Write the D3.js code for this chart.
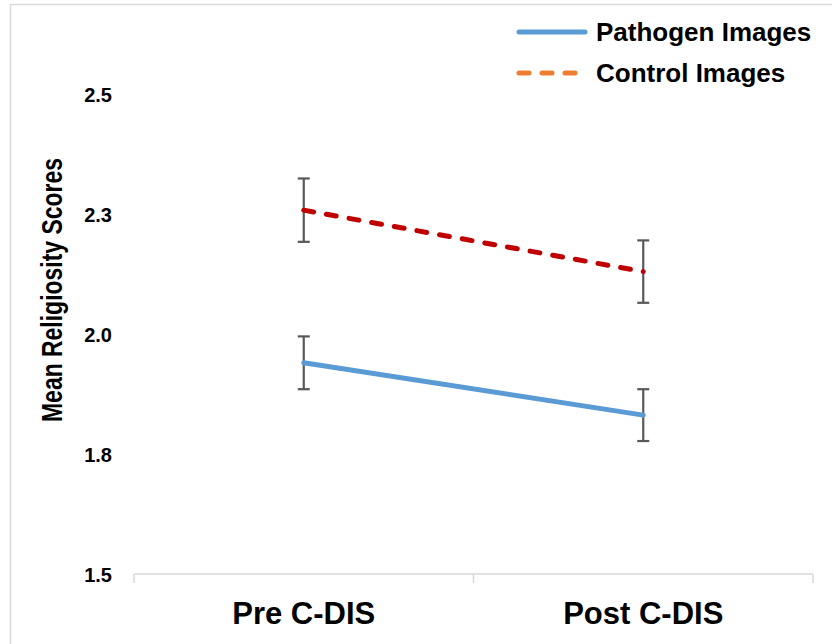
<!DOCTYPE html>
<html><head><meta charset="utf-8">
<script src="https://cdn.jsdelivr.net/npm/d3@7"></script>
<style>body{margin:0;background:#fff}svg{display:block}text{font-family:"Liberation Sans",Arial,sans-serif;font-weight:bold;fill:#000}</style>
</head><body>
<script>
const categories = ["Pre C-DIS", "Post C-DIS"];
const seriesNames = ["Pathogen Images", "Control Images"];
const pathogenValues = [1.940, 1.831];
const pathogenErrors = [0.055, 0.054];
const controlValues = [2.258, 2.130];
const controlErrors = [0.066, 0.065];
const yTickValues = [1.5, 1.75, 2.0, 2.25, 2.5];
const yTickLabels = ["1.5", "1.8", "2.0", "2.3", "2.5"];
const yTitle = "Mean Religiosity Scores";

const W = 832, H = 644;
const svg = d3.select("body").append("svg").attr("width", W).attr("height", H);
svg.append("rect").attr("width", W).attr("height", H).attr("fill", "#fff");

// outer frame (partially visible)
svg.append("path").attr("d", `M10.5,${H} V4.5 H${W}`).attr("fill", "none")
  .attr("stroke", "#d9d9d9").attr("stroke-width", 1.5);

const x = d3.scaleBand().domain(categories).range([134, 813]);
const y = d3.scaleLinear().domain([1.5, 2.5]).range([574, 94]);

// x axis
const xAxis = d3.axisBottom(x).tickSize(0).tickFormat("");
const gx = svg.append("g").attr("transform", "translate(0,574)").call(xAxis);
gx.select(".domain").remove();
gx.append("line").attr("x1", 134).attr("x2", 813).attr("y1", 0).attr("y2", 0)
  .attr("stroke", "#d9d9d9").attr("stroke-width", 1.5);
const bounds = [134, 134 + x.bandwidth(), 813];
gx.selectAll("line.tk").data(bounds).join("line").attr("class", "tk")
  .attr("x1", d => d).attr("x2", d => d).attr("y1", 0).attr("y2", 9)
  .attr("stroke", "#d9d9d9").attr("stroke-width", 1.5);
svg.selectAll("text.xl").data(categories).join("text").attr("class", "xl")
  .attr("x", d => x(d) + x.bandwidth() / 2).attr("y", 624)
  .attr("text-anchor", "middle").attr("font-size", 31).text(d => d);

// y axis
const yAxis = d3.axisLeft(y).tickValues(yTickValues).tickSize(0)
  .tickFormat((d, i) => yTickLabels[i]);
const gy = svg.append("g").attr("transform", "translate(112,0)").call(yAxis);
gy.select(".domain").remove();
gy.selectAll("text").attr("x", 0).attr("dy", "0.35em").attr("font-size", 20)
  .attr("font-family", null).style("font-weight", "bold").attr("fill", "#000");

svg.append("text").attr("transform", "translate(62,290) rotate(-90)")
  .attr("text-anchor", "middle").attr("font-size", 29)
  .attr("textLength", 264).attr("lengthAdjust", "spacingAndGlyphs").text(yTitle);

const cx = d => x(d) + x.bandwidth() / 2;

function drawErr(vals, errs) {
  const g = svg.append("g").attr("stroke", "#595959").attr("stroke-width", 2.2);
  categories.forEach((c, i) => {
    const xc = cx(c);
    g.append("line").attr("x1", xc).attr("x2", xc).attr("y1", y(vals[i] + errs[i])).attr("y2", y(vals[i] - errs[i]));
    g.append("line").attr("x1", xc - 6).attr("x2", xc + 6).attr("y1", y(vals[i] + errs[i])).attr("y2", y(vals[i] + errs[i]));
    g.append("line").attr("x1", xc - 6).attr("x2", xc + 6).attr("y1", y(vals[i] - errs[i])).attr("y2", y(vals[i] - errs[i]));
  });
}
drawErr(pathogenValues, pathogenErrors);
drawErr(controlValues, controlErrors);

const line = d3.line().x((d, i) => cx(categories[i])).y(d => y(d));
svg.append("path").datum(pathogenValues).attr("d", line).attr("fill", "none")
  .attr("stroke", "#5B9BD5").attr("stroke-width", 5).attr("stroke-linecap", "round");
svg.append("path").datum(controlValues).attr("d", line).attr("fill", "none")
  .attr("stroke", "#C00000").attr("stroke-width", 5).attr("stroke-linecap", "round")
  .attr("stroke-dasharray", "10,13");

// legend
const legend = [
  {name: seriesNames[0], color: "#5B9BD5", dash: null, y: 32},
  {name: seriesNames[1], color: "#ED7D31", dash: "10,13", y: 73}
];
const lg = svg.append("g");
legend.forEach(l => {
  lg.append("line").attr("x1", 519).attr("x2", 585).attr("y1", l.y).attr("y2", l.y)
    .attr("stroke", l.color).attr("stroke-width", 5).attr("stroke-linecap", "round")
    .attr("stroke-dasharray", l.dash);
  lg.append("text").attr("x", 596).attr("y", l.y).attr("dy", "0.35em")
    .attr("font-size", 26).text(l.name);
});
</script>
</body></html>
